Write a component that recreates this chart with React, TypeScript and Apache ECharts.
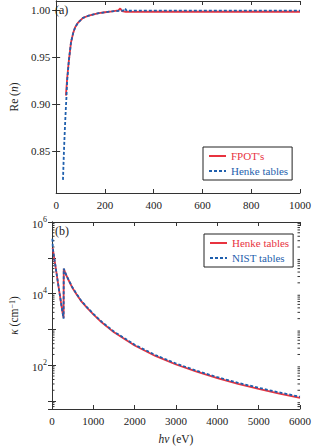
import React, { useEffect, useRef } from 'react';
import * as echarts from 'echarts';

const RED = '#e8333f';
const BLUE = '#1f5fad';
const AX = '#333333';
const TXT = '#222222';
const FONT = 'Liberation Serif';

// Panel (a): Re(n)
const reEnergyFPOT = [40, 45, 52, 61, 70, 78, 90, 110, 130, 150, 175, 200, 230, 255, 263, 270, 285, 300, 400, 600, 800, 1000];
const reFPOT = [0.909, 0.927, 0.946, 0.966, 0.976, 0.982, 0.987, 0.992, 0.994, 0.9955, 0.997, 0.998, 0.999, 1.0, 1.0021, 0.9992, 0.9985, 0.9983, 0.9985, 0.9985, 0.9985, 0.9985];
const reEnergyHenke = [28, 32, 36, 40, 42, 45, 52, 61, 70, 78, 90, 110, 130, 150, 175, 200, 230, 260, 275, 282, 290, 300, 400, 600, 800, 1000];
const reHenke = [0.819, 0.85, 0.875, 0.897, 0.906, 0.924, 0.946, 0.966, 0.976, 0.982, 0.987, 0.992, 0.994, 0.9955, 0.997, 0.998, 0.999, 0.9995, 0.9997, 1.0021, 0.9993, 0.9996, 0.9997, 0.9997, 0.9997, 0.9997];

// Panel (b): kappa (cm^-1)
const kEnergyHenke = [15, 30, 50, 75, 100, 150, 200, 250, 280, 284, 290, 350, 400, 500, 600, 700, 850, 1000, 1200, 1500, 2000, 2500, 3000, 3500, 4000, 4500, 5000, 5500, 6000];
const kHenke = [1.9e5, 1.5e5, 1.05e5, 6.9e4, 4.4e4, 1.8e4, 7600, 3200, 2100, 4.9e4, 4.8e4, 3.16e4, 2.4e4, 1.41e4, 9300, 6300, 4000, 2630, 1580, 830, 355, 182, 105, 66, 43.6, 30.2, 21.9, 16.2, 12.3];
const kEnergyNIST = [10, 20, 30, 50, 75, 100, 150, 200, 250, 280, 284, 290, 350, 400, 500, 600, 700, 850, 1000, 1200, 1500, 2000, 2500, 3000, 3500, 4000, 4500, 5000, 5500, 6000];
const kNIST = [3.4e5, 1.9e5, 1.5e5, 1.05e5, 6.9e4, 4.4e4, 1.8e4, 7600, 3200, 2000, 5.0e4, 4.9e4, 3.2e4, 2.45e4, 1.45e4, 9600, 6500, 4150, 2730, 1650, 870, 375, 193, 112, 70, 46.5, 32.3, 23.5, 17.4, 13.2];

// Axis ticks
const reTicks = [0.85, 0.9, 0.95, 1.0];
const minorMultipliers = [2, 3, 4, 5, 6, 7, 8, 9];
const decades = [1, 10, 100, 1000, 10000, 100000];

const KMIN = 6;
const KMAX = 1e6;

const zip = (xs: number[], ys: number[]) => xs.map((x, i) => [x, ys[i]]);

const tickStyle = { show: true, inside: true, length: 4, lineStyle: { color: AX, width: 1 } };
const lineStyleAx = { show: true, lineStyle: { color: AX, width: 1 } };
const labelStyle = { fontFamily: FONT, fontSize: 11, color: TXT };
const plainFmt = (v: number) => String(v);

export default function App() {
  const ref = useRef<HTMLDivElement>(null);
  useEffect(() => {
    if (!ref.current) return;
    const chart = echarts.init(ref.current, undefined, { renderer: 'svg' });

    const minorVals: number[] = [];
    decades.forEach((d) => minorMultipliers.forEach((m) => {
      const v = d * m;
      if (v > KMIN && v < KMAX) minorVals.push(v);
    }));

    const logFmt = (v: number) => {
      const l = Math.log10(v);
      const e = Math.round(l);
      if (Math.abs(l - e) > 1e-6 || e % 2 !== 0) return '';
      return '{b|10}{s|' + e + '}';
    };

    const option: any = {
      animation: false,
      backgroundColor: '#ffffff',
      grid: [
        { left: 45, top: 1, width: 258, height: 192 },
        { left: 45, top: 222, width: 258, height: 191 },
      ],
      xAxis: [
        {
          gridIndex: 0, type: 'value', min: 0, max: 1000, interval: 200,
          axisLine: lineStyleAx, axisTick: tickStyle, splitLine: { show: false },
          axisLabel: { ...labelStyle, margin: 6, formatter: plainFmt },
        },
        {
          gridIndex: 0, type: 'value', position: 'top', min: 0, max: 1000, interval: 200,
          axisLine: lineStyleAx, axisTick: tickStyle, splitLine: { show: false },
          axisLabel: { show: false },
        },
        {
          gridIndex: 1, type: 'value', min: 0, max: 6000, interval: 1000,
          axisLine: lineStyleAx, axisTick: tickStyle, splitLine: { show: false },
          axisLabel: { ...labelStyle, margin: 6, formatter: plainFmt },
          name: '{i|hν} (eV)', nameLocation: 'middle', nameGap: 24,
          nameTextStyle: { fontFamily: FONT, fontSize: 11.5, color: TXT, rich: { i: { fontFamily: FONT, fontSize: 11.5, fontStyle: 'italic', color: TXT } } },
        },
        {
          gridIndex: 1, type: 'value', position: 'top', min: 0, max: 6000, interval: 1000,
          axisLine: lineStyleAx, axisTick: tickStyle, splitLine: { show: false },
          axisLabel: { show: false },
        },
      ],
      yAxis: [
        {
          gridIndex: 0, type: 'value', min: 0.805, max: 1.01,
          axisLine: lineStyleAx, splitLine: { show: false },
          axisTick: { ...tickStyle, customValues: reTicks },
          axisLabel: { ...labelStyle, margin: 6, customValues: reTicks, formatter: (v: number) => v.toFixed(2) },
          name: '{n|Re (}{i|n}{n|)}', nameLocation: 'middle', nameGap: 34,
          nameTextStyle: { fontFamily: FONT, fontSize: 11.5, color: TXT, rich: { n: { fontFamily: FONT, fontSize: 11.5, color: TXT }, i: { fontFamily: FONT, fontSize: 11.5, fontStyle: 'italic', color: TXT } } },
        },
        {
          gridIndex: 0, type: 'value', position: 'right', min: 0.805, max: 1.01,
          axisLine: lineStyleAx, splitLine: { show: false },
          axisTick: { ...tickStyle, customValues: reTicks },
          axisLabel: { show: false },
        },
        {
          gridIndex: 1, type: 'log', min: KMIN, max: KMAX, logBase: 10,
          axisLine: lineStyleAx, splitLine: { show: false },
          axisTick: tickStyle,
          axisLabel: {
            ...labelStyle, margin: 5, formatter: logFmt,
            rich: {
              b: { fontFamily: FONT, fontSize: 11, color: TXT, lineHeight: 14, verticalAlign: 'bottom' },
              s: { fontFamily: FONT, fontSize: 8, color: TXT, verticalAlign: 'top', lineHeight: 8 },
            },
          },
          name: '{i|κ} (cm{s|−1})', nameLocation: 'middle', nameGap: 32,
          nameTextStyle: {
            fontFamily: FONT, fontSize: 11.5, color: TXT,
            rich: {
              i: { fontFamily: FONT, fontSize: 11.5, fontStyle: 'italic', color: TXT },
              s: { fontFamily: FONT, fontSize: 8, color: TXT, verticalAlign: 'top', lineHeight: 8 },
            },
          },
        },
        {
          gridIndex: 1, type: 'log', position: 'right', min: KMIN, max: KMAX, logBase: 10,
          axisLine: lineStyleAx, splitLine: { show: false },
          axisTick: tickStyle,
          axisLabel: { show: false },
        },
      ],
      legend: [
        {
          orient: 'vertical', left: 203, top: 147,
          padding: [3, 4, 3, 5], itemGap: 3, itemWidth: 17, itemHeight: 10,
          borderColor: '#222', borderWidth: 1, backgroundColor: '#fff',
          textStyle: { fontFamily: FONT, fontSize: 11, lineHeight: 12 },
          itemStyle: { opacity: 0 },
          data: [
            { name: "FPOT's", textStyle: { color: RED } },
            { name: 'Henke tables', textStyle: { color: BLUE } },
          ],
        },
        {
          orient: 'vertical', left: 204, top: 234,
          padding: [3, 4, 3, 5], itemGap: 3, itemWidth: 17, itemHeight: 10,
          borderColor: '#222', borderWidth: 1, backgroundColor: '#fff',
          textStyle: { fontFamily: FONT, fontSize: 11, lineHeight: 12 },
          itemStyle: { opacity: 0 },
          formatter: (name: string) => (name === 'Henke (b)' ? 'Henke tables' : name),
          data: [
            { name: 'Henke (b)', textStyle: { color: RED } },
            { name: 'NIST tables', textStyle: { color: BLUE } },
          ],
        },
      ],
      graphic: [
        { type: 'text', left: 55, top: 4, z: 100, style: { text: '(a)', fontFamily: FONT, fontSize: 12, fill: TXT } },
        { type: 'text', left: 55, top: 225, z: 100, style: { text: '(b)', fontFamily: FONT, fontSize: 12, fill: TXT } },
      ],
      series: [
        {
          name: "FPOT's", type: 'line', xAxisIndex: 0, yAxisIndex: 0,
          data: zip(reEnergyFPOT, reFPOT), symbol: 'none', showSymbol: false,
          lineStyle: { color: RED, width: 1.8 }, itemStyle: { color: RED },
        },
        {
          name: 'Henke tables', type: 'line', xAxisIndex: 0, yAxisIndex: 0,
          data: zip(reEnergyHenke, reHenke), symbol: 'none', showSymbol: false,
          lineStyle: { color: BLUE, width: 1.8, type: [3, 2] }, itemStyle: { color: BLUE },
        },
        {
          name: 'Henke (b)', type: 'line', xAxisIndex: 2, yAxisIndex: 2,
          data: zip(kEnergyHenke, kHenke), symbol: 'none', showSymbol: false,
          lineStyle: { color: RED, width: 1.8 }, itemStyle: { color: RED },
        },
        {
          name: 'NIST tables', type: 'line', xAxisIndex: 2, yAxisIndex: 2,
          data: zip(kEnergyNIST, kNIST), symbol: 'none', showSymbol: false,
          lineStyle: { color: BLUE, width: 1.8, type: [3, 2] }, itemStyle: { color: BLUE },
        },
        {
          type: 'custom', xAxisIndex: 2, yAxisIndex: 2, silent: true, clip: false,
          data: minorVals.map((v) => [0, v]),
          encode: { x: 0, y: 1 },
          renderItem: (params: any, api: any) => {
            const v = api.value(1);
            const l = api.coord([0, v]);
            const r = api.coord([6000, v]);
            return {
              type: 'group',
              children: [
                { type: 'line', shape: { x1: l[0], y1: l[1], x2: l[0] + 2.5, y2: l[1] }, style: { stroke: AX, lineWidth: 1 } },
                { type: 'line', shape: { x1: r[0] - 2.5, y1: r[1], x2: r[0], y2: r[1] }, style: { stroke: AX, lineWidth: 1 } },
              ],
            };
          },
        },
      ],
    };
    chart.setOption(option);
    return () => chart.dispose();
  }, []);
  return <div ref={ref} style={{ position: 'fixed', left: 0, top: 0, width: 314, height: 446, background: '#fff' }} />;
}
